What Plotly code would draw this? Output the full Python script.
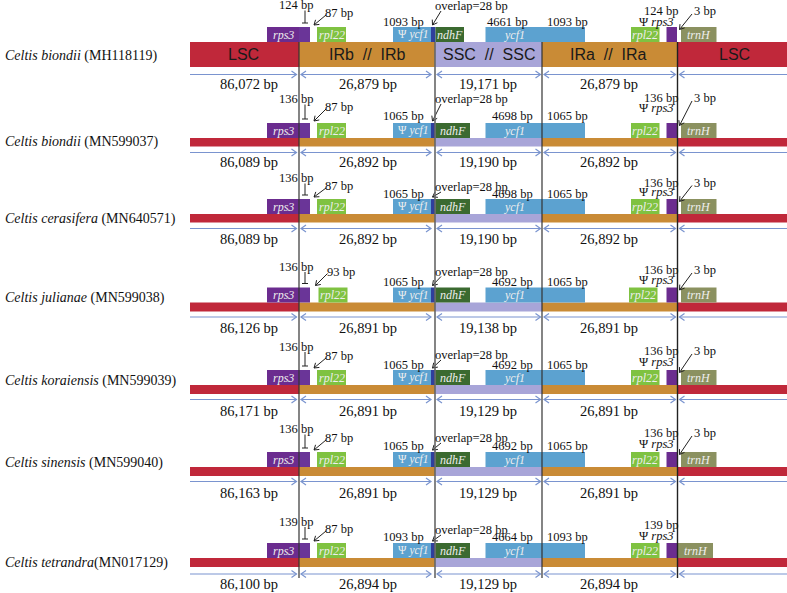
import plotly.graph_objects as go
import math

# ---------------- data ----------------
species = ["Celtis biondii", "Celtis biondii", "Celtis cerasifera", "Celtis julianae",
           "Celtis koraiensis", "Celtis sinensis", "Celtis tetrandra"]
accessions = ["(MH118119)", "(MN599037)", "(MN640571)", "(MN599038)",
              "(MN599039)", "(MN599040)", "(MN017129)"]
name_sep = [" ", " ", " ", " ", " ", " ", ""]
lsc_len = [86072, 86089, 86089, 86126, 86171, 86163, 86100]
irb_len = [26879, 26892, 26892, 26891, 26891, 26891, 26894]
ssc_len = [19171, 19190, 19190, 19138, 19129, 19129, 19129]
ira_len = [26879, 26892, 26892, 26891, 26891, 26891, 26894]
rps3_in_ir = [124, 136, 136, 136, 136, 136, 139]
rpl22_gap = [87, 87, 87, 93, 87, 87, 87]
ycf1_pseudo = [1093, 1065, 1065, 1065, 1065, 1065, 1093]
ycf1_ssc = [4661, 4698, 4698, 4692, 4692, 4692, 4664]
ndhf_overlap = [28, 28, 28, 28, 28, 28, 28]
trnh_gap = [3, 3, 3, 3, 3, 3, None]
region_names = ["LSC", "IRb  //  IRb", "SSC  //  SSC", "IRa  //  IRa", "LSC"]

# ---------------- layout (pixel frame) ----------------
W, H = 787, 593
XB = [190, 299, 435, 542, 677, 787]          # region boundaries
BAR = [(42, 67), (138, 146.5), (214, 222.5), (302.5, 311.5), (385, 394), (467, 476), (558, 567)]
ARROW_Y = [74.5, 152.5, 228.5, 317, 399.5, 481.5, 574]
SIZE_Y = [84, 162, 239, 328, 411, 493, 584]
NAME_Y = [56, 142, 219, 298, 381, 463, 563]
YA = [5, 99, 178, 266.5, 346.5, 429, 521.5]     # left junction bp
YB = [13, 107, 186, 271.5, 356, 438, 529]       # rpl22 bp
YC = [22, 116, 194, 281.5, 364.5, 446, 537]     # ycf1 bp
YD = [6, 99, 187, 271.5, 355, 438, 530]         # overlap
YE = [11, 98, 182.5, 270, 351, 433, 525]        # right junction bp
YF = [21.5, 108, 191.5, 280, 362, 444, 536]     # psi rps3
GENE_H = 15

C_LSC, C_IR, C_SSC = "#c0283a", "#c98b36", "#a8a5d8"
C_RPS3, C_RPS3B, C_RPL22 = "#6b2c8f", "#6a3598", "#7fc241"
C_YCF1, C_OVL, C_NDHF, C_TRNH = "#5ca2d0", "#2f3f9c", "#3b6a30", "#8b9160"
C_ARR = "#7a94cf"
SERIF = "Liberation Serif"
SANS = "Liberation Sans"

shapes, ann = [], []


def rect(x0, y0, x1, y1, color):
    shapes.append(dict(type="rect", xref="x", yref="y", x0=x0, x1=x1, y0=y0, y1=y1,
                       fillcolor=color, line=dict(width=0), layer="above"))


def line(x0, y0, x1, y1, color="#222", w=1.0):
    shapes.append(dict(type="line", xref="x", yref="y", x0=x0, y0=y0, x1=x1, y1=y1,
                       line=dict(color=color, width=w), layer="above"))


def path(d, color, w=1.0):
    shapes.append(dict(type="path", xref="x", yref="y", path=d,
                       line=dict(color=color, width=w), layer="above"))


def chevron(xt, y, direction, color=C_ARR):
    path(f"M {xt - direction*5},{y-3.5} L {xt},{y} L {xt - direction*5},{y+3.5}", color, 1.2)


def pointer(x0, y0, x1, y1, color="#222"):
    line(x0, y0, x1, y1, color, 1.0)
    dx, dy = x1 - x0, y1 - y0
    L = math.hypot(dx, dy)
    ux, uy = dx / L, dy / L
    nx, ny = -uy, ux
    a = (x1 - 4.5 * ux + 3 * nx, y1 - 4.5 * uy + 3 * ny)
    b = (x1 - 4.5 * ux - 3 * nx, y1 - 4.5 * uy - 3 * ny)
    path(f"M {a[0]},{a[1]} L {x1},{y1} L {b[0]},{b[1]}", color, 1.0)


def text(x, y, s, size=12.5, color="#111", anchor="center", family=SERIF):
    ann.append(dict(x=x, y=y, xref="x", yref="y", text=s, showarrow=False,
                    xanchor=anchor, yanchor="middle",
                    font=dict(family=family, size=size, color=color)))


for r in range(7):
    bt, bb = BAR[r]
    gt = bt - GENE_H
    cols = [C_LSC, C_IR, C_SSC, C_IR, C_LSC]
    for i in range(5):
        rect(XB[i], bt, XB[i + 1], bb, cols[i])
    if r == 0:
        cx = [243, 367, 489, 608, 734]
        for i in range(5):
            text(cx[i], (bt + bb) / 2, region_names[i], 16, "#1a1a1a", family=SANS)

    # genes
    rect(267, gt, XB[1], bt, C_RPS3)
    rect(XB[1], gt, 310, bt, C_RPS3B)
    sh = 1.5 if rpl22_gap[r] > 90 else 0
    rect(317 + sh, gt, 346 + sh, bt, C_RPL22)
    rect(393, gt, 431, bt, C_YCF1)
    rect(431, gt, 435.5, bt, C_OVL)
    ndh_end = 464 if r == 0 else 470
    rect(435.5, gt, ndh_end, bt, C_NDHF)
    rect(485.5, gt, 585, bt, C_YCF1)
    sh2 = -2 if rpl22_gap[r] > 90 else 0
    rect(631 + sh2, gt, 659.5 + sh2, bt, C_RPL22)
    rect(666.5, gt, 677, bt, C_RPS3)
    if trnh_gap[r] is None:
        rect(678, gt, 713, bt, C_TRNH)
        trnh_c = 695.5
    else:
        rect(681, gt, 716.5, bt, C_TRNH)
        trnh_c = 698.5

    gy = gt + GENE_H / 2
    gc = "#eeeeee"
    text(283, gy, "<i>rps3</i>", 12, gc)
    text(331.5 + sh, gy, "<i>rpl22</i>", 12, gc)
    text(413, gy, "Ψ <i>ycf1</i>", 11.5, gc)
    text((435.5 + ndh_end) / 2 + 0.5, gy, "<i>ndhF</i>", 12, gc)
    text(514, gy, "<i>ycf1</i>", 12, gc)
    text(645 + sh2, gy, "<i>rpl22</i>", 12, gc)
    text(trnh_c, gy, "<i>trnH</i>", 12, gc)

    # annotations above genes
    text(296, YA[r], f"{rps3_in_ir[r]} bp")
    line(305, YA[r] + 5.5, 305, gt - 4, "#222", 1.0)
    line(302, gt - 4, 308, gt - 4, "#222", 1.0)
    text(339 + sh, YB[r], f"{rpl22_gap[r]} bp")
    pointer(326 + sh, YB[r] + 2, 314 + sh, gt - 2)
    text(426, YC[r], f"{ycf1_pseudo[r]} bp", anchor="right")
    text(433, YD[r], f"overlap={ndhf_overlap[r]} bp", anchor="left")
    pointer(441, YD[r] + 5, 432.5, gt - 2)
    text(530 if r == 0 else 535, YC[r], f"{ycf1_ssc[r]} bp", anchor="right")
    text(545, YC[r], f"{ycf1_pseudo[r]} bp", anchor="left")
    text(680, YE[r], f"{rps3_in_ir[r]} bp", anchor="right")
    text(676, YF[r], "Ψ <i>rps3</i>", anchor="right")
    if trnh_gap[r] is not None:
        text(692, YE[r], f"{trnh_gap[r]} bp", anchor="left")
        pointer(692, YE[r] + 3, 679.5, gt + 2.5)

    # length arrows
    ay = ARROW_Y[r]
    line(190, ay, 296.5, ay, C_ARR, 1.2)
    chevron(296.5, ay, 1)
    line(301, ay, 431, ay, C_ARR, 1.2)
    chevron(301, ay, -1)
    chevron(431, ay, 1)
    line(437, ay, 540.5, ay, C_ARR, 1.2)
    chevron(437, ay, -1)
    chevron(540.5, ay, 1)
    line(544, ay, 675.5, ay, C_ARR, 1.2)
    chevron(544, ay, -1)
    chevron(675.5, ay, 1)
    line(679.5, ay, 787, ay, C_ARR, 1.2)
    chevron(679.5, ay, -1)

    sy = SIZE_Y[r]
    text(249, sy, f"{lsc_len[r]:,} bp", 14.5)
    text(368, sy, f"{irb_len[r]:,} bp", 14.5)
    text(488, sy, f"{ssc_len[r]:,} bp", 14.5)
    text(609, sy, f"{ira_len[r]:,} bp", 14.5)

    text(3, NAME_Y[r], f"<i>{species[r]}</i>{name_sep[r]}{accessions[r]}", 14, "#111", anchor="left")

# junction lines
line(299, 42, 299, 578, "#333", 1.2)
line(435, 42, 435, 578, "#666", 1.6)
line(542, 42, 542, 578, "#333", 1.2)
line(677.5, 42, 677.5, 578, "#222", 1.4)

fig = go.Figure()
fig.update_layout(
    width=W, height=H, margin=dict(l=0, r=0, t=0, b=0),
    paper_bgcolor="white", plot_bgcolor="white",
    xaxis=dict(range=[0, W], visible=False, fixedrange=True),
    yaxis=dict(range=[H, 0], visible=False, fixedrange=True),
    shapes=shapes, annotations=ann, showlegend=False,
)
fig.write_html("out.html", config={"displayModeBar": False},
               post_script="document.body.style.margin='0';document.body.style.overflow='hidden';")
